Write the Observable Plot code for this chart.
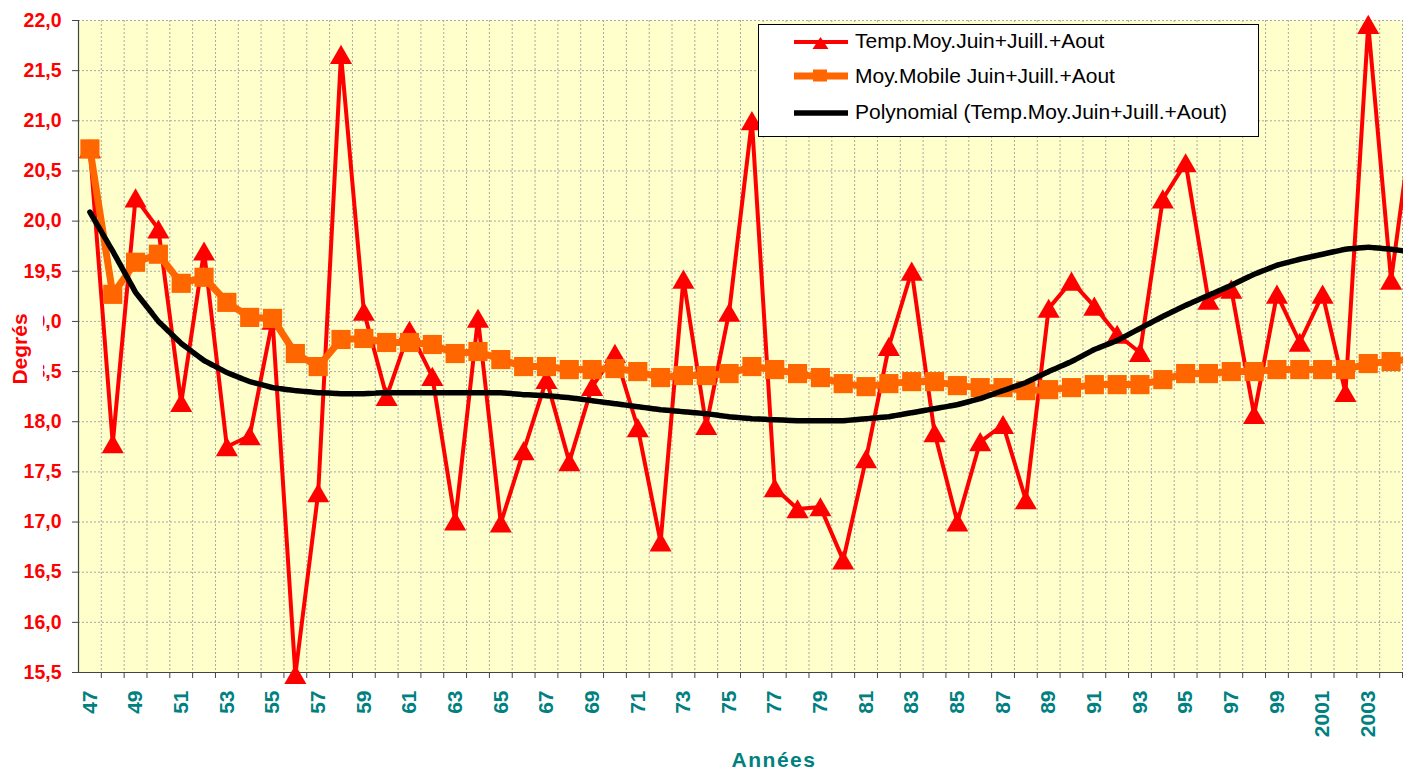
<!DOCTYPE html>
<html><head><meta charset="utf-8">
<script src="https://cdn.jsdelivr.net/npm/d3@7"></script>
<script src="https://cdn.jsdelivr.net/npm/@observablehq/plot@0.6"></script>
<style>
html,body{margin:0;padding:0;background:#fff;overflow:hidden;}
#chart svg{display:block;overflow:hidden;}
</style></head><body><div id="chart"></div>
<script>
const years = d3.range(1947, 2006);
const temp = [20.72,17.78,20.23,19.92,18.19,19.70,17.75,17.86,19.01,15.48,
  17.29,21.66,19.10,18.25,18.91,18.45,17.01,19.03,16.99,17.71,
  18.42,17.60,18.35,18.68,17.94,16.80,19.42,17.96,19.09,21.00,
  17.34,17.13,17.15,16.62,17.63,18.75,19.50,17.89,17.00,17.80,
  17.97,17.22,19.13,19.40,19.15,18.87,18.69,20.22,20.58,19.21,
  19.32,18.07,19.27,18.79,19.27,18.29,21.96,19.41,21.10];
const movingAvg = [20.72,19.27,19.59,19.67,19.38,19.44,19.19,19.04,19.03,18.68,
  18.55,18.82,18.83,18.79,18.79,18.77,18.68,18.70,18.62,18.55,
  18.55,18.52,18.52,18.53,18.50,18.44,18.46,18.46,18.48,18.55,
  18.52,18.48,18.44,18.38,18.35,18.38,18.40,18.40,18.36,18.34,
  18.34,18.31,18.32,18.34,18.37,18.37,18.37,18.42,18.48,18.48,
  18.50,18.50,18.52,18.52,18.52,18.52,18.58,18.60,18.63];
const poly = [20.09,19.70,19.29,19.00,18.78,18.61,18.49,18.40,18.34,18.31,
  18.29,18.28,18.28,18.29,18.29,18.29,18.29,18.29,18.29,18.27,
  18.26,18.24,18.21,18.18,18.15,18.12,18.10,18.08,18.05,18.03,
  18.02,18.01,18.01,18.01,18.03,18.05,18.09,18.13,18.17,18.23,
  18.31,18.39,18.50,18.60,18.72,18.81,18.93,19.05,19.16,19.26,
  19.36,19.47,19.56,19.62,19.67,19.72,19.74,19.72,19.69];
const yTicks = [15.5,16,16.5,17,17.5,18,18.5,19,19.5,20,20.5,21,21.5,22];
const labelYears = years.filter(y => y % 2 === 1 && y <= 2003);
const bounds = years.filter(y => y <= 2004).map(y => y + 0.5);
const seriesNames = ["Temp.Moy.Juin+Juill.+Aout", "Moy.Mobile Juin+Juill.+Aout", "Polynomial (Temp.Moy.Juin+Juill.+Aout)"];
const seriesColors = ["#FF0000", "#FF6600", "#000000"];
const yTitle = "Degrés";
const xTitle = "Années";

const fmtY = d => d.toFixed(1).replace(".", ",");
const fmtX = d => d < 2000 ? String(d).slice(2) : String(d);
const rows = years.map((year, i) => ({year, temp: temp[i], avg: movingAvg[i], poly: poly[i]}));
const FONT = "'Liberation Sans', Arial, sans-serif";

const plot = Plot.plot({
  width: 1403, height: 771,
  marginLeft: 78, marginRight: 1, marginTop: 20, marginBottom: 99,
  style: {background: "transparent", overflow: "hidden", fontFamily: FONT},
  x: {type: "linear", domain: [1946.5, 2004.5], axis: null},
  y: {domain: [15.5, 22], axis: null},
  marks: [
    Plot.frame({fill: "#FFFFCC", stroke: null}),
    Plot.gridY(yTicks, {stroke: "#a8a8a8", strokeOpacity: 1, strokeDasharray: "2,2"}),
    Plot.gridX(bounds, {stroke: "#a8a8a8", strokeOpacity: 1, strokeDasharray: "2,2"}),
    Plot.axisY(yTicks, {tickFormat: fmtY, tickSize: 6, tickPadding: 11, stroke: "#444", fill: "#FF0000",
      fontSize: 19.5, fontWeight: "bold", label: null}),
    Plot.axisX(bounds, {tickSize: 6, tickFormat: () => "", stroke: "#444", label: null}),
    Plot.text(labelYears, {x: d => d, frameAnchor: "bottom", dy: 18, rotate: -90, textAnchor: "end",
      lineAnchor: "middle", text: fmtX, fill: "#008080", fontSize: 21, fontWeight: "bold"}),
    Plot.ruleX([1946.5], {stroke: "#444", strokeWidth: 1.2}),
    Plot.ruleY([15.5], {stroke: "#444", strokeWidth: 1.2}),
    Plot.line(rows, {x: "year", y: "temp", stroke: seriesColors[0], strokeWidth: 4, strokeLinejoin: "miter"}),
    Plot.dot(rows, {x: "year", y: "temp", symbol: "triangle", r: 8.2, fill: seriesColors[0], stroke: "none", dy: 3}),
    Plot.line(rows, {x: "year", y: "avg", stroke: seriesColors[1], strokeWidth: 7}),
    Plot.dot(rows, {x: "year", y: "avg", symbol: "square", r: 10.8, fill: seriesColors[1], stroke: "none"}),
    Plot.line(rows, {x: "year", y: "poly", stroke: seriesColors[2], strokeWidth: 5.5, strokeDasharray: "7,1"})
  ]
});
document.getElementById("chart").appendChild(plot);

const svg = d3.select(plot);
// y title with its white box
svg.append("rect").attr("x", 3).attr("y", 306).attr("width", 40).attr("height", 86).attr("fill", "#fff");
svg.append("text").attr("transform", "translate(27,349) rotate(-90)").attr("text-anchor", "middle")
  .attr("font-family", FONT).attr("font-size", 21).attr("font-weight", "bold").attr("fill", "#FF0000").text(yTitle);
// x title
svg.append("text").attr("x", 774).attr("y", 767).attr("text-anchor", "middle")
  .attr("font-family", FONT).attr("font-size", 21).attr("font-weight", "bold").attr("letter-spacing", "1.5px")
  .attr("fill", "#008080").text(xTitle);
// legend
const lg = svg.append("g").attr("text-anchor", "start");
lg.append("rect").attr("x", 758.5).attr("y", 24.5).attr("width", 500).attr("height", 112)
  .attr("fill", "#fff").attr("stroke", "#000").attr("stroke-width", 1);
const rowY = [42, 76, 113];
const rowBase = [48, 83, 119];
const rowW = [4, 7, 5.5];
seriesNames.forEach((name, i) => {
  lg.append("line").attr("x1", 794).attr("x2", 848).attr("y1", rowY[i]).attr("y2", rowY[i])
    .attr("stroke", seriesColors[i]).attr("stroke-width", rowW[i]);
  lg.append("text").attr("x", 855).attr("y", rowBase[i]).attr("text-anchor", "start")
    .attr("font-family", FONT).attr("font-size", 21).attr("fill", "#000").text(name);
});
lg.append("path").attr("d", "M820.5,37L812.5,49L828.5,49Z").attr("fill", seriesColors[0]);
lg.append("rect").attr("x", 813).attr("y", 69.5).attr("width", 14).attr("height", 12).attr("fill", seriesColors[1]);
</script></body></html>
